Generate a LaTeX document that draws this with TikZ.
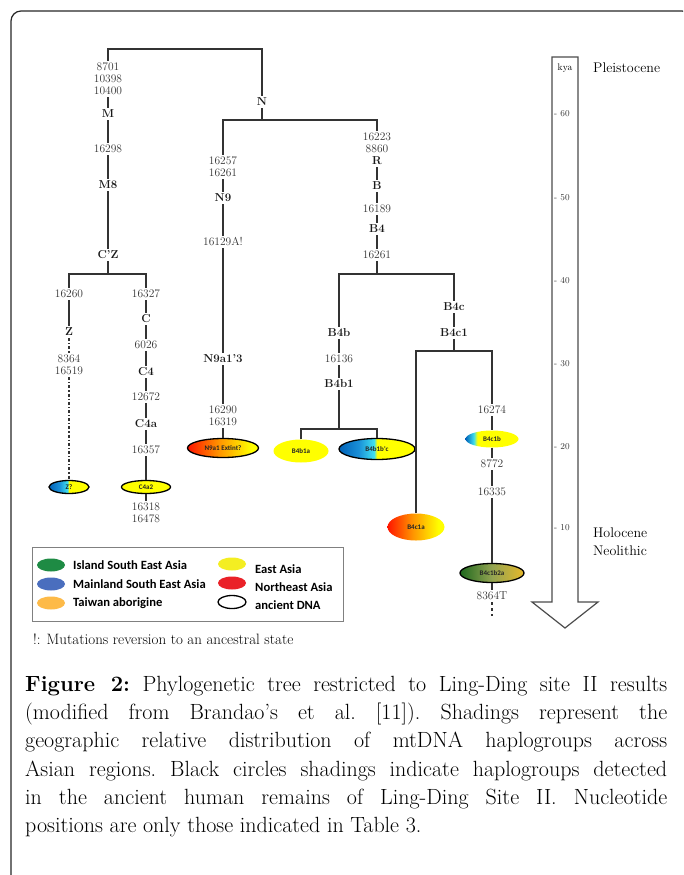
\documentclass[tikz,border=0pt]{standalone}
\usepackage{fontspec}
\newfontfamily\carlito{Carlito}
\usepackage{tikz}
\usetikzlibrary{shapes.geometric}
\definecolor{hgblue}{HTML}{0062B8}
\definecolor{hgmid}{HTML}{1A90D8}
\definecolor{hgcyan}{HTML}{3FE0F0}
\definecolor{hgyellow}{HTML}{FFFF00}
\definecolor{hgred}{HTML}{FF1500}
\definecolor{hgorange}{HTML}{FF9400}
\definecolor{hggreen}{HTML}{1E681E}
\definecolor{hgolive}{HTML}{93A452}
\definecolor{hggold}{HTML}{E6B82A}
\definecolor{legisland}{HTML}{1E8B44}
\definecolor{legmain}{HTML}{4A6EBE}
\definecolor{legtaiwan}{HTML}{FDBA48}
\definecolor{legeast}{HTML}{F4EE22}
\definecolor{legnorth}{HTML}{EA2128}
\pgfdeclarehorizontalshading{blueyellow}{100bp}{color(0bp)=(hgblue); color(25bp)=(hgblue); color(38bp)=(hgmid); color(48bp)=(hgcyan); color(50bp)=(hgyellow); color(100bp)=(hgyellow)}
\pgfdeclarehorizontalshading{blueyellowb}{100bp}{color(0bp)=(hgblue); color(25bp)=(hgblue); color(33bp)=(hgcyan); color(36bp)=(hgyellow); color(100bp)=(hgyellow)}
\pgfdeclarehorizontalshading{redyellow}{100bp}{color(0bp)=(hgred); color(25bp)=(hgred); color(47bp)=(hgorange); color(70bp)=(hgyellow); color(100bp)=(hgyellow)}
\pgfdeclarehorizontalshading{greengold}{100bp}{color(0bp)=(hggreen); color(25bp)=(hggreen); color(50bp)=(hgolive); color(75bp)=(hggold); color(100bp)=(hggold)}

\begin{document}
\begin{tikzpicture}[x=1pt, y=-1pt,
  mut/.style={align=center, inner sep=2pt, text=black!80, font=\fontsize{11.5}{12}\selectfont},
  hg/.style={inner sep=2pt, text=black!90, font=\fontsize{11.5}{12}\selectfont\bfseries},
  branch/.style={draw=black!80, line width=1.2pt},
  hap/.style={ellipse, inner sep=0pt, text=black!85, font=\carlito\fontsize{7}{8}\selectfont\bfseries},
  adna/.style={hap, draw=black, line width=1.3pt},
  tick/.style={anchor=west, inner sep=0pt, text=black!80, font=\fontsize{9}{10}\selectfont},
  era/.style={anchor=west, inner sep=0pt, font=\fontsize{14}{18}\selectfont},
  legdot/.style={ellipse, minimum width=28pt, minimum height=13pt, inner sep=0pt},
  legtext/.style={anchor=west, inner sep=0pt, font=\carlito\fontsize{12.6}{14}\selectfont\bfseries}]
  \useasboundingbox (0,0) rectangle (683,875);
  \clip (0,0) rectangle (683,875);

  % frame
  \draw[line width=1.2pt, black!85, rounded corners=10pt] (11,11) rectangle (692,900);

  % M side
  \node[mut] (mutM) at (108,79) {8701\\10398\\10400};
  \node[hg] (M) at (108,114) {M};
  \node[mut] (m16298) at (108,149) {16298};
  \node[hg] (M8) at (108,185) {M8};
  \node[hg] (CZ) at (108,255) {C'Z};
  \coordinate (rootfork) at (185,49);
  \coordinate (czfork) at (108,274);

  \node[mut] (z16260) at (69,294) {16260};
  \node[hg] (Z) at (69,332) {Z};
  \node[mut] (mutZ) at (69,365) {8364\\16519};
  \node[adna, shading=blueyellow, minimum width=40pt, minimum height=13pt] (Zq) at (69,487) {Z?};

  \node[mut] (c16327) at (146,294) {16327};
  \node[hg] (C) at (146,319) {C};
  \node[mut] (c6026) at (146,345) {6026};
  \node[hg] (C4) at (146,372) {C4};
  \node[mut] (c12672) at (146,397) {12672};
  \node[hg] (C4a) at (146,424) {C4a};
  \node[mut] (c16357) at (146,450) {16357};
  \node[adna, fill=hgyellow, minimum width=49pt, minimum height=13pt] (C4a2) at (146,487) {C4a2};
  \node[mut] (mutC4a2) at (146,513) {16318\\16478};

  % N side
  \node[hg] (N) at (262,102) {N};
  \coordinate (nfork) at (262,120);

  \node[mut] (mutN9) at (223,167) {16257\\16261};
  \node[hg] (N9) at (223,198) {N9};
  \node[mut] (n16129) at (223,242) {16129A!};
  \node[hg] (N9a13) at (223,359) {N9a1'3};
  \node[mut] (mutN9a1) at (223,416) {16290\\16319};
  \node[adna, shading=redyellow, minimum width=71pt, minimum height=19pt] (N9a1) at (223,448) {N9a1 Extint?};

  \node[mut] (mutR) at (377,143) {16223\\8860};
  \node[hg] (R) at (377,161) {R};
  \node[hg] (B) at (377,186) {B};
  \node[mut] (r16189) at (377,209) {16189};
  \node[hg] (B4) at (377,229) {B4};
  \node[mut] (r16261) at (377,255) {16261};
  \coordinate (b4fork) at (377,274);

  \node[hg] (B4b) at (339,333) {B4b};
  \node[mut] (b16136) at (339,359) {16136};
  \node[hg] (B4b1) at (339,384) {B4b1};
  \coordinate (b4b1fork) at (339,429);
  \node[hap, fill=hgyellow, minimum width=55pt, minimum height=23pt] (B4b1a) at (301,451) {B4b1a};
  \node[adna, shading=blueyellow, minimum width=76pt, minimum height=21pt] (B4b1bc) at (377,449) {B4b1b'c};

  \node[hg] (B4c) at (454,307) {B4c};
  \node[hg] (B4c1) at (454,333) {B4c1};
  \coordinate (b4c1fork) at (454,351);
  \node[hap, shading=redyellow, minimum width=57pt, minimum height=27pt] (B4c1a) at (416,527) {B4c1a};
  \node[mut] (b16274) at (492,410) {16274};
  \node[hap, shading=blueyellowb, minimum width=53pt, minimum height=17pt] (B4c1b) at (492,439) {B4c1b};
  \node[mut] (b8772) at (492,464) {8772};
  \node[mut] (b16335) at (492,492) {16335};
  \node[adna, shading=greengold, minimum width=64pt, minimum height=19pt] (B4c1b2a) at (492,573) {B4c1b2a};
  \node[mut] (b8364T) at (492,596) {8364T};
  \coordinate (b4c1b2end) at (492,616);

  % branches
  \draw[branch] (mutM) |- (rootfork) -| (N);
  \draw[branch] (mutM) -- (M) -- (m16298) -- (M8) -- (CZ) -- (czfork);
  \draw[branch] (z16260) |- (czfork) -| (c16327);
  \draw[branch] (z16260) -- (Z);
  \draw[branch, dash dot] (Z) -- (mutZ) -- (Zq);
  \draw[branch] (c16327) -- (C) -- (c6026) -- (C4) -- (c12672) -- (C4a) -- (c16357) -- (C4a2) -- (mutC4a2);
  \draw[branch] (N) -- (nfork);
  \draw[branch] (mutN9) |- (nfork) -| (mutR);
  \draw[branch] (mutN9) -- (N9) -- (n16129) -- (N9a13) -- (mutN9a1) -- (N9a1);
  \draw[branch] (R) -- (B) -- (r16189) -- (B4) -- (r16261) -- (b4fork);
  \draw[branch] (B4b) |- (b4fork) -| (B4c);
  \draw[branch] (B4b) -- (b16136) -- (B4b1) -- (b4b1fork);
  \draw[branch] (B4b1a) |- (b4b1fork) -| (B4b1bc);
  \draw[branch] (B4c) -- (B4c1) -- (b4c1fork);
  \draw[branch] (B4c1a) |- (b4c1fork) -| (b16274);
  \draw[branch] (b16274) -- (B4c1b) -- (b8772) -- (b16335) -- (B4c1b2a) -- (b8364T);
  \draw[branch, dashed] (b8364T) -- (b4c1b2end);

  % time arrow
  \draw[line width=1.2pt, black!70] (552,57) -- (578,57) -- (578,602) -- (598,602) -- (565,628) -- (532,602) -- (552,602) -- cycle;
  \node[inner sep=0pt, font=\fontsize{9.5}{10}\selectfont] (kya) at (565,68) {kya};
  \foreach \t/\y in {60/114, 50/198, 40/281, 30/364, 20/447, 10/528}
    \node[tick] (tick\t) at (554,\y) {- \t};
  \node[era] (pleist) at (593,68) {Pleistocene};
  \node[era] (holo) at (593,533) {Holocene};
  \node[era] (neo) at (593,551) {Neolithic};

  % legend
  \draw[black!50, line width=1pt, fill=white] (32,547) rectangle (343,621);
  \foreach \c/\txt/\y in {legisland/Island South East Asia/565, legmain/Mainland South East Asia/584, legtaiwan/Taiwan aborigine/603} {
    \node[legdot, fill=\c] (dotA\y) at (51,\y) {};
    \node[legtext] (txtA\y) at (73,\y) {\txt};
  }
  \foreach \c/\txt/\y/\ty in {legeast/East Asia/564/569, legnorth/Northeast Asia/583/587} {
    \node[legdot, fill=\c] (dotB\y) at (232,\y) {};
    \node[legtext] (txtB\y) at (255,\ty) {\txt};
  }
  \node[legdot, draw=black, line width=1.3pt] (dotDNA) at (232,602) {};
  \node[legtext] (txtDNA) at (255,605) {ancient DNA};
  \node[anchor=west, inner sep=0pt, font=\fontsize{15}{17}\selectfont] (note) at (33,639) {!: Mutations reversion to an ancestral state};

  % caption
  \node[anchor=north west, inner sep=0pt] (caption) at (25,676) {\parbox{642pt}{\fontsize{22}{28.2}\selectfont
    \frenchspacing\hyphenpenalty=10000\exhyphenpenalty=10000\tolerance=10000
    \textbf{Figure 2:} Phylogenetic tree restricted to Ling-Ding site II results\linebreak
    (modified from Brandao's et al. [11]). Shadings represent the\linebreak
    geographic relative distribution of mtDNA haplogroups across\linebreak
    Asian regions. Black circles shadings indicate haplogroups detected\linebreak
    in the ancient human remains of Ling-Ding Site II. Nucleotide\linebreak
    positions are only those indicated in Table 3.}};
\end{tikzpicture}
\end{document}
